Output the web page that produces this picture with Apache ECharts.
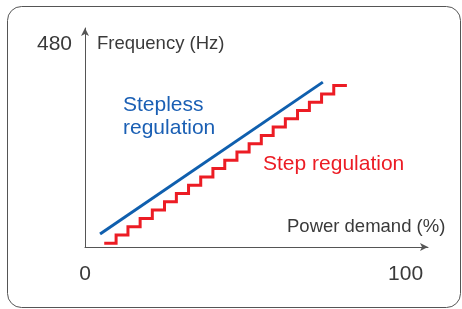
<!DOCTYPE html>
<html>
<head>
<meta charset="utf-8">
<script src="https://cdn.jsdelivr.net/npm/echarts@6/dist/echarts.min.js"></script>
<style>
  html, body { margin: 0; padding: 0; background: #fff; }
  #chart { width: 462px; height: 309px; }
</style>
</head>
<body>
<div id="chart"></div>
<script>
// power demand (%) / frequency (Hz)
var steplessX = [4.7, 74.2];
var steplessY = [31, 390];
// red staircase: x where each level starts, and the level height
var stepX = [6, 9.7, 13.4, 17.2, 21, 24.8, 28.5, 32.3, 36.1, 39.9, 43.6, 47.4, 51.2, 55, 58.7, 62.5, 66.3, 70, 73.8, 77.6, 81.7];
var stepY = [8.8, 28.4, 48, 67.6, 87.3, 106.9, 126.5, 146.2, 165.8, 185.4, 205.1, 224.7, 244.3, 264, 283.6, 303.2, 322.9, 342.5, 362.1, 381.7, 381.7];
var xTicks = [0, 100];
var yTicks = [480];

function pairs(xs, ys) {
    var out = [];
    for (var i = 0; i < xs.length; i++) {
        out.push([xs[i], ys[i]]);
    }
    return out;
}

var myChart = echarts.init(document.getElementById('chart'));
var axisColor = '#555';
var textColor = '#3a3a3a';
var font = 'Liberation Sans, Arial, sans-serif';

var option = {
    animation: false,
    grid: { left: 85, right: 34, top: 28, bottom: 62 },
    xAxis: {
        type: 'value',
        min: 0,
        max: 107,
        splitLine: { show: false },
        axisTick: { show: false },
        axisLine: { lineStyle: { color: axisColor, width: 1 }, symbol: ['none', 'arrow'], symbolSize: [6, 8] },
        axisLabel: { customValues: xTicks, margin: 17, fontSize: 21, color: textColor, fontFamily: font }
    },
    yAxis: {
        type: 'value',
        min: 0,
        max: 518,
        splitLine: { show: false },
        axisTick: { show: false },
        axisLine: { show: true, lineStyle: { color: axisColor, width: 1 }, symbol: ['none', 'arrow'], symbolSize: [6, 8] },
        axisLabel: { customValues: yTicks, margin: 13, fontSize: 21, color: textColor, fontFamily: font }
    },
    series: [
        {
            name: 'Stepless regulation',
            type: 'line',
            data: pairs(steplessX, steplessY),
            symbol: 'none',
            lineStyle: { color: '#0f5fae', width: 3 }
        },
        {
            name: 'Step regulation',
            type: 'line',
            step: 'end',
            data: pairs(stepX, stepY),
            symbol: 'none',
            lineStyle: { color: '#ec1c24', width: 3, join: 'miter' }
        }
    ],
    graphic: [
        { type: 'rect', shape: { x: 7.5, y: 6.5, width: 453, height: 301, r: 14 }, style: { fill: 'none', stroke: '#555', lineWidth: 1 }, silent: true },
        { type: 'text', style: { x: 97, y: 44, text: 'Frequency (Hz)', font: '18.5px ' + font, fill: textColor, textVerticalAlign: 'middle' } },
        { type: 'text', style: { x: 287, y: 227, text: 'Power demand (%)', font: '18.5px ' + font, fill: textColor, textVerticalAlign: 'middle' } },
        { type: 'text', style: { x: 123, y: 105, text: 'Stepless', font: '21px ' + font, fill: '#1a5fb4', textVerticalAlign: 'middle' } },
        { type: 'text', style: { x: 123, y: 128.5, text: 'regulation', font: '21px ' + font, fill: '#1a5fb4', textVerticalAlign: 'middle' } },
        { type: 'text', style: { x: 263, y: 164, text: 'Step regulation', font: '21px ' + font, fill: '#ec1c24', textVerticalAlign: 'middle' } }
    ]
};
myChart.setOption(option);
</script>
</body>
</html>
